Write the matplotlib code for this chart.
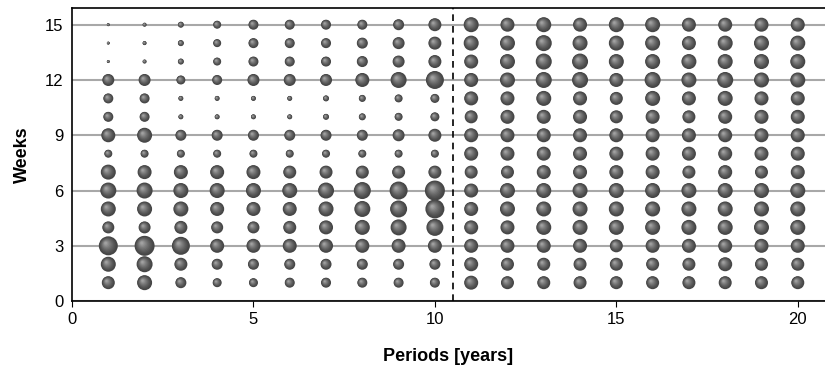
import matplotlib.pyplot as plt
import numpy as np

periods = list(range(1, 21))
weeks = list(range(15, 0, -1))
# bubble diameter (px), one row per week, top row = week 15
sizes = [
    [3, 4, 6, 8, 10, 10, 10, 10, 11, 13, 15, 14, 15, 14, 15, 15, 14, 14, 14, 14],
    [3, 4, 6, 8, 10, 10, 10, 11, 12, 13, 15, 15, 16, 15, 15, 15, 14, 15, 15, 15],
    [3, 4, 6, 8, 10, 10, 10, 11, 12, 13, 14, 15, 16, 16, 15, 15, 15, 15, 15, 15],
    [12, 12, 9, 10, 12, 12, 12, 14, 16, 18, 14, 15, 16, 16, 14, 16, 15, 16, 15, 15],
    [10, 10, 5, 5, 5, 5, 6, 7, 8, 9, 14, 14, 15, 14, 13, 15, 14, 15, 14, 14],
    [10, 10, 5, 5, 5, 5, 6, 7, 8, 9, 13, 14, 14, 14, 13, 14, 13, 14, 14, 14],
    [14, 15, 11, 11, 11, 11, 11, 11, 12, 13, 14, 14, 14, 14, 14, 14, 14, 14, 14, 14],
    [8, 8, 8, 8, 8, 8, 8, 8, 8, 8, 14, 14, 14, 14, 14, 14, 14, 14, 14, 14],
    [15, 14, 14, 14, 14, 13, 13, 13, 13, 13, 13, 13, 14, 14, 14, 14, 13, 14, 13, 14],
    [16, 16, 15, 15, 15, 15, 16, 17, 18, 20, 14, 15, 15, 15, 15, 15, 15, 15, 15, 15],
    [15, 15, 15, 14, 14, 14, 15, 16, 17, 19, 14, 15, 15, 15, 15, 15, 15, 15, 15, 15],
    [12, 12, 13, 12, 12, 13, 14, 15, 16, 17, 14, 14, 15, 15, 15, 15, 15, 15, 15, 15],
    [19, 20, 18, 14, 14, 14, 14, 14, 14, 14, 14, 14, 14, 14, 13, 14, 14, 14, 14, 14],
    [15, 16, 13, 11, 11, 11, 11, 11, 11, 11, 14, 13, 13, 13, 13, 13, 13, 14, 13, 13],
    [13, 15, 11, 9, 9, 10, 10, 10, 10, 10, 14, 13, 13, 13, 13, 13, 13, 13, 13, 13],
]
split = 10.5

plt.rcParams['font.family'] = ['Liberation Sans', 'DejaVu Sans']

dpi = 100
fig = plt.figure(figsize=(8.25, 3.69), dpi=dpi)
ax = fig.add_axes([0.0873, 0.184, 0.9127, 0.794])
ax.set_xlim(0, 20.75)
ax.set_ylim(0, 15.9)

X, Y = np.meshgrid(periods, weeks)
D = np.array(sizes, dtype=float)
x = X.ravel()
y = Y.ravel()
d = D.ravel()

# pixels per data unit, used to shift the highlight of each sphere
p0 = ax.transData.transform((0, 0))
p1 = ax.transData.transform((1, 1))
sx, sy = p1[0] - p0[0], p1[1] - p0[1]

# shaded spheres: stacked circles getting smaller and lighter toward top-left
n = 10
for k in range(n):
    f = 1 - 0.85 * k / (n - 1)
    c = 0.27 + 0.36 * (k / (n - 1)) ** 1.3
    r = d / 2
    off = (1 - f) * 0.32 * r
    ax.scatter(x - off / sx, y + off / sy, s=(d * f * 72 / dpi) ** 2,
               color=(c, c, c), edgecolors='none', zorder=3 + k * 0.01)

ax.axvline(split, color='black', ls=(0, (4, 3)), lw=1.2, zorder=2)

ax.set_xticks([0, 5, 10, 15, 20])
ax.set_yticks([0, 3, 6, 9, 12, 15])
ax.yaxis.grid(True, color='#a8a8a8', lw=1.5)
ax.set_axisbelow(True)
ax.tick_params(axis='x', direction='out', length=4, labelsize=12, pad=4)
ax.tick_params(axis='y', length=0, labelsize=12, pad=6)
for s in ['left', 'bottom', 'top']:
    ax.spines[s].set_linewidth(1.2)
ax.spines['right'].set_visible(False)

ax.set_xlabel('Periods [years]', fontsize=13, fontweight='bold', labelpad=15)
ax.set_ylabel('Weeks', fontsize=13, fontweight='bold', labelpad=10)

fig.savefig('out.png', dpi=dpi)
